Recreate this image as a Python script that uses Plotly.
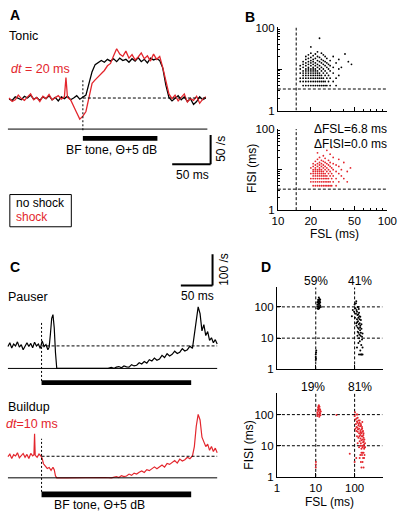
import plotly.graph_objects as go

W, H = 407, 519
RED = "#e3262d"
FONT = "Liberation Sans, Arial, Helvetica, sans-serif"

# ---------------- Panel A (tonic neuron PSTH, rate in spikes/s vs time in ms) -------------
tA_noshock = [-96, -92, -88, -84, -80, -76, -72, -68, -64, -60, -56, -52, -48, -44, -40,
              -36, -32, -28, -24, -20, -16, -12, -8, -4, 0, 4, 8, 12, 16, 20, 24, 28, 32,
              36, 40, 44, 48, 52, 56, 60, 64, 68, 72, 76, 80, 84, 88, 92, 96, 100, 104,
              108, 112, 116, 120, 124, 128, 132, 136, 140, 144, 148, 152, 156, 160]
A_noshock = [51, 49, 55, 52, 50, 56, 53, 58, 51, 54, 49, 55, 52, 57, 50,
             54, 48, 55, 52, 56, 50, 53, 57, 51, 54, 58, 78, 98, 110, 113, 117, 114, 119,
             116, 120, 115, 121, 117, 119, 114, 120, 116, 122, 115, 119, 113, 121, 118, 120, 117, 104,
             75, 54, 48, 53, 57, 50, 55, 47, 52, 42, 47, 55, 50, 53]
tA_shock = [-96, -92, -88, -84, -80, -76, -72, -68, -64, -60, -56, -52, -48, -44, -40,
            -36, -32, -28, -24, -22, -20, -16, -12, -8, -4, 0, 4, 8, 12, 16, 20, 24, 28, 32,
            36, 40, 44, 48, 52, 56, 60, 64, 68, 72, 76, 80, 84, 88, 92, 96, 100, 104,
            108, 112, 116, 120, 124, 128, 132, 136, 140, 144, 148, 152, 156, 160]
A_shock = [53, 47, 50, 58, 52, 49, 55, 60, 50, 54, 47, 56, 52, 59, 50,
           53, 57, 51, 55, 88, 54, 50, 40, 28, 17, 22, 30, 55, 78, 84, 89, 95, 100, 108,
           112, 125, 137, 128, 124, 133, 121, 127, 118, 123, 130, 120, 125, 116, 128, 119, 124, 105,
           80, 60, 52, 58, 48, 54, 60, 46, 52, 49, 56, 44, 51, 55]
A_spont = 53          # spontaneous rate (dashed line)
A_tone = [0, 97]      # tone on/off (ms)
A_span = [-97.5, 162]

# ---------------- Panel C (pauser / buildup) ----------------
tC_pauser = [-53, -50, -47, -44, -41, -38, -35, -32, -29, -26, -23, -20, -17, -14, -11, -8, -5, -2,
             1, 4, 7, 10, 12, 14, 16, 18, 20, 22, 24, 40, 60, 80, 95, 100, 105, 110, 114, 118, 122,
             126, 130, 134, 138, 142, 146, 150, 154, 158, 162, 166, 170, 174, 178, 182, 186, 190,
             194, 198, 202, 206, 210, 214, 218, 222, 226, 230, 234, 238, 241, 244, 247, 250, 253,
             256, 259, 262, 265, 268, 271, 274, 277]
C_pauser = [70, 82, 65, 78, 72, 85, 68, 76, 60, 74, 82, 70, 80, 66, 84, 72, 78, 64,
            88, 70, 76, 60, 68, 110, 160, 172, 130, 50, 0, 0, 0, 0, 0, 2, 0, 3, 0, 4, 6,
            2, 8, 5, 4, 12, 8, 10, 18, 14, 22, 17, 28, 24, 33, 26, 30, 42,
            35, 47, 40, 45, 55, 48, 52, 63, 56, 60, 71, 64, 105, 160, 197, 175, 120,
            140, 105, 118, 90, 98, 82, 92, 78]
tC_buildup = [-53, -50, -47, -44, -41, -38, -35, -32, -29, -26, -23, -20, -17, -14, -12, -11, -10,
              -7, -4, -1, 1, 3, 6, 9, 12, 15, 18, 20, 22, 24, 40, 60, 80, 100, 110, 114, 118, 122,
              126, 130, 134, 138, 142, 146, 150, 154, 158, 162, 166, 170, 174, 178, 182, 186, 190,
              194, 198, 202, 206, 210, 214, 218, 222, 226, 230, 234, 238, 241, 244, 247, 250, 253,
              256, 259, 262, 265, 268, 271, 274, 277]
C_buildup = [68, 76, 62, 74, 70, 80, 64, 72, 78, 66, 75, 62, 78, 70, 74, 141, 72,
             66, 76, 70, 62, 45, 36, 30, 33, 24, 34, 26, 6, 0, 0, 1, 0, 1, 0, 2, 4, 1,
             7, 4, 6, 12, 8, 15, 12, 18, 22, 17, 26, 23, 28, 35, 29, 36, 41,
             34, 46, 43, 50, 55, 47, 60, 54, 58, 66, 61, 70, 100, 165, 203, 185, 130,
             115, 100, 108, 88, 100, 84, 95, 80]
C_spont_pauser = 72
C_spont_buildup = 69
C_tone = [0, 236]
C_span = [-53, 277]

# ---------------- Panel B (FSL vs FISI, single unit) ----------------
B_fsl_cols_noshock = [16, 17, 18, 19, 20, 21, 22, 23, 24, 25, 26, 27, 28, 29, 30, 32, 34, 36, 38, 41, 44, 47]
B_fisi_cols_noshock = [
    [5, 6, 8, 10, 12],
    [4, 5, 6, 7, 8, 9, 11, 13, 15],
    [4, 5, 6, 7, 8, 9, 10, 12, 14, 17, 20],
    [4, 5, 6, 7, 8, 9, 10, 11, 13, 15, 18, 22],
    [4, 5, 6, 7, 8, 9, 10, 12, 14, 16, 19, 24, 34],
    [4, 5, 6, 7, 8, 9, 10, 11, 13, 15, 17, 21],
    [4, 5, 6, 7, 8, 9, 10, 12, 14, 18, 23],
    [4, 5, 6, 7, 8, 9, 11, 13, 16, 20, 26],
    [4, 5, 6, 7, 8, 10, 12, 15, 19, 55],
    [4, 5, 6, 7, 9, 11, 14, 17, 24],
    [4, 5, 6, 8, 10, 13, 16, 22],
    [4, 5, 7, 9, 12, 15, 20],
    [4, 6, 8, 11, 14, 18],
    [5, 7, 10, 13],
    [4, 6, 9, 12, 16],
    [5, 8, 11, 20],
    [4, 6, 14],
    [7, 10, 17],
    [11],
    [23],
    [15],
    [13],
]
B_fsl_cols_shock = [20, 21, 22, 23, 24, 25, 26, 27, 28, 29, 30, 31, 32, 34, 36, 38, 40, 43, 46]
B_fisi_cols_shock = [
    [5, 6, 8, 11],
    [4, 5, 6, 7, 8, 9, 10, 12, 14],
    [4, 5, 6, 7, 8, 9, 10, 11, 13, 16],
    [4, 5, 6, 7, 8, 9, 10, 12, 14, 18, 26],
    [4, 5, 6, 7, 8, 9, 10, 11, 13, 15, 20],
    [4, 5, 6, 7, 8, 9, 10, 12, 14, 17],
    [4, 5, 6, 7, 8, 9, 11, 13, 16, 22],
    [4, 5, 6, 7, 8, 10, 12, 15, 19],
    [4, 5, 6, 7, 9, 11, 14, 30],
    [4, 5, 6, 8, 10, 13, 17],
    [4, 5, 7, 9, 12, 15, 24],
    [4, 6, 8, 11, 35],
    [5, 7, 10, 14, 20],
    [4, 6, 9, 13],
    [5, 8, 12, 18],
    [7, 10],
    [6, 15],
    [5, 9],
    [11],
]
B_crit_fsl = 14.7
B_crit_fisi = 3.3
B_stats = ["\u0394FSL=6.8 ms", "\u0394FISI=0.0 ms"]

# ---------------- Panel D (population FSL vs FISI) ----------------
D_noshock = [
    (11, 120), (11.5, 150), (12, 100), (12.5, 180), (11, 90), (12, 130), (13, 110), (11.5, 170),
    (12, 200), (12.5, 95), (13, 140), (11, 105), (12, 160), (11.5, 85), (12.5, 125), (13.5, 100),
    (12, 115), (11, 140), (13, 170), (12.5, 150), (11.8, 135), (12.2, 88),
    (10, 3), (10, 2.5), (10.2, 3.5), (10, 2), (10.3, 4), (10.1, 2.2),
    (100, 120), (105, 90), (110, 150), (115, 70), (120, 100), (108, 60), (112, 80), (118, 55),
    (125, 45), (130, 65), (122, 35), (115, 40), (135, 30), (128, 28), (140, 25), (120, 22),
    (132, 50), (145, 38), (138, 18), (126, 15), (150, 20), (118, 12), (142, 12), (130, 10),
    (155, 9), (136, 8), (125, 7), (148, 6), (160, 5), (115, 5), (140, 4), (150, 3), (130, 3),
    (145, 3), (160, 3), (110, 30), (102, 45), (97, 70), (128, 85), (112, 25), (134, 40),
    (124, 58), (140, 48), (116, 32), (150, 28), (138, 22), (127, 20), (120, 16), (145, 15),
    (133, 13), (155, 11), (160, 14), (122, 100), (108, 130), (90, 80), (85, 50),
]
D_shock = [
    (11, 120), (11.5, 150), (12, 100), (12.5, 180), (11, 90), (12, 130), (13, 110), (11.5, 170),
    (12, 200), (12.5, 95), (13, 140), (11, 105), (12, 160), (13.5, 125), (12.5, 115), (11.8, 185),
    (12.8, 150), (13.2, 95), (11.2, 140), (12.3, 85),
    (10, 2.5), (10.1, 3), (10, 2), (34, 97), (75, 5.5),
    (100, 90), (105, 70), (110, 100), (115, 60), (120, 80), (108, 50), (112, 40), (118, 55),
    (125, 45), (130, 35), (135, 65), (140, 30), (145, 50), (150, 25), (155, 40), (160, 20),
    (165, 30), (170, 18), (130, 25), (120, 28), (140, 22), (150, 15), (125, 18), (135, 14),
    (145, 12), (155, 10), (165, 13), (175, 11), (170, 25), (180, 9), (160, 9), (150, 8),
    (140, 10), (130, 9), (120, 12), (115, 20), (110, 30), (105, 35), (128, 50), (138, 42),
    (148, 33), (158, 28), (168, 22), (178, 16), (185, 12), (142, 17), (152, 20), (162, 16),
    (172, 14), (132, 20), (122, 33), (118, 38), (144, 26), (156, 35), (166, 10), (176, 8),
    (186, 9), (150, 6), (160, 6), (170, 6), (140, 5), (155, 5), (165, 4), (175, 4), (145, 3),
    (160, 3), (150, 2), (170, 2), (135, 4), (180, 5), (112, 75), (102, 120), (126, 65),
    (134, 55), (146, 45), (158, 58), (118, 100), (100, 3), (110, 4),
]
D_ref = [10, 100]
D_pct_noshock = ["59%", "41%"]
D_pct_shock = ["19%", "81%"]


# ---------------- helpers (layout positions in pixels) ----------------
def X(px):
    return px / W


def Y(py):
    return 1 - py / H


fig = go.Figure()
shapes = []
annotations = []


def text(s, x, y, size=12, color="black", xanchor="left", angle=0):
    annotations.append(dict(text=s, x=X(x), y=Y(y), xref="paper", yref="paper",
                            showarrow=False, xanchor=xanchor, yanchor="middle",
                            textangle=angle, borderpad=0,
                            font=dict(size=size, color=color, family=FONT)))


def seg(xr, yr, x0, x1, y0, y1, width=1, dash=None, color="black"):
    shapes.append(dict(type="line", xref=xr, yref=yr, x0=x0, x1=x1, y0=y0, y1=y1,
                       line=dict(color=color, width=width, dash=dash)))


def bar(xr, yr, x0, x1, y0, y1):
    shapes.append(dict(type="rect", xref=xr, yref=yr, x0=x0, x1=x1, y0=y0, y1=y1,
                       fillcolor="black", line=dict(width=0)))


hidden = dict(visible=False, fixedrange=True)

# ---- axes for traces (A and C) ----
layout_axes = {}
layout_axes["xaxis"] = dict(hidden, domain=[0, X(244)], range=[(0 - 80) / 0.8, (244 - 80) / 0.8])
layout_axes["yaxis"] = dict(hidden, domain=[Y(180), 1], range=[(126 - 180) / 0.6, 126 / 0.6], anchor="x")
layout_axes["xaxis4"] = dict(hidden, domain=[0, X(244)], range=[(0 - 37) / 0.66, (244 - 37) / 0.66], anchor="y4")
layout_axes["yaxis4"] = dict(hidden, domain=[Y(395), Y(245)], range=[(371 - 395) / 0.32, (371 - 245) / 0.32], anchor="x4")
layout_axes["xaxis5"] = dict(hidden, domain=[0, X(244)], range=[(0 - 37) / 0.66, (244 - 37) / 0.66], anchor="y5")
layout_axes["yaxis5"] = dict(hidden, domain=[0, Y(400)], range=[(483 - 519) / 0.32, (483 - 400) / 0.32], anchor="x5")


def log_axis(domain, rng, tickvals, ticktext, minor_vals, labels, anchor):
    return dict(type="log", domain=domain, range=rng, tickvals=tickvals, ticktext=ticktext,
                ticks="inside", ticklen=4, tickwidth=1, tickcolor="black",
                showline=True, linecolor="black", linewidth=1, mirror=False,
                showgrid=False, zeroline=False, showticklabels=labels,
                tickfont=dict(size=11.5, color="black", family=FONT), anchor=anchor,
                minor=dict(tickvals=minor_vals, ticks="inside", ticklen=2, tickwidth=1,
                           tickcolor="black", showgrid=False),
                fixedrange=True)


minorB_x = [30, 40, 60, 70, 80, 90]
minorB_y = [2, 3, 4, 5, 6, 7, 8, 9, 20, 30, 40, 50, 60, 70, 80, 90]
layout_axes["xaxis2"] = log_axis([X(283), X(397)], [1, 2], [10, 20, 50, 100], ["10", "20", "50", "100"], minorB_x, False, "y2")
layout_axes["yaxis2"] = log_axis([Y(107), Y(22)], [0, 2], [1, 10, 100], ["1", "", "100"], minorB_y, True, "x2")
layout_axes["xaxis3"] = log_axis([X(283), X(397)], [1, 2], [10, 20, 50, 100], ["10", "20", "50", "100"], minorB_x, True, "y3")
layout_axes["yaxis3"] = log_axis([Y(209), Y(126)], [0, 2], [1, 10, 100], ["1", "", "100"], minorB_y, True, "x3")

layout_axes["xaxis6"] = log_axis([X(282), X(392)], [0, 2.72], [1, 10, 100], ["1", "10", "100"], [], False, "y6")
layout_axes["yaxis6"] = log_axis([Y(372), Y(288)], [0, 2.625], [1, 10, 100], ["1", "10", "100"], [], True, "x6")
layout_axes["xaxis7"] = log_axis([X(282), X(392)], [0, 2.72], [1, 10, 100], ["1", "10", "100"], [], True, "y7")
layout_axes["yaxis7"] = log_axis([Y(482), Y(396)], [0, 2.70], [1, 10, 100], ["1", "10", "100"], [], True, "x7")

# ---- Panel A traces ----
fig.add_trace(go.Scatter(x=tA_noshock, y=A_noshock, mode="lines", line=dict(color="black", width=1.3),
                         xaxis="x", yaxis="y", hoverinfo="skip"))
fig.add_trace(go.Scatter(x=tA_shock, y=A_shock, mode="lines", line=dict(color=RED, width=1.3),
                         xaxis="x", yaxis="y", hoverinfo="skip"))
seg("x", "y", A_span[0], A_span[1], 0, 0, width=1)
seg("x", "y", A_tone[0], A_span[1], A_spont, A_spont, width=1, dash="3px,2px")
seg("x", "y", A_tone[0], A_tone[0], -2, 85, width=1, dash="2px,2px")
bar("x", "y", A_tone[0], A_tone[1], -20, -11.7)
# scale bars: 50 ms, 50 /s
seg("x", "y", 116.25, 116.25 + 50, -60, -60, width=2)
seg("x", "y", 166.25, 166.25, -60, -60 + 50, width=2)

# ---- Panel C traces ----
fig.add_trace(go.Scatter(x=tC_pauser, y=C_pauser, mode="lines", line=dict(color="black", width=1.2),
                         xaxis="x4", yaxis="y4", hoverinfo="skip"))
fig.add_trace(go.Scatter(x=tC_buildup, y=C_buildup, mode="lines", line=dict(color=RED, width=1.2),
                         xaxis="x5", yaxis="y5", hoverinfo="skip"))
seg("x4", "y4", C_span[0], C_span[1], 0, 0, width=1)
seg("x4", "y4", C_tone[0], C_span[1], C_spont_pauser, C_spont_pauser, width=1, dash="3px,2px")
seg("x4", "y4", C_tone[0], C_tone[0], -40, 150, width=1, dash="2px,2px")
bar("x4", "y4", C_tone[0], C_tone[1], -53, -37.5)
seg("x5", "y5", C_span[0], C_span[1], 0, 0, width=1)
seg("x5", "y5", C_tone[0], C_span[1], C_spont_buildup, C_spont_buildup, width=1, dash="3px,2px")
seg("x5", "y5", C_tone[0], C_tone[0], -45, 125, width=1, dash="2px,2px")
bar("x5", "y5", C_tone[0], C_tone[1], -62.5, -44)
# scale bars: 50 ms, 100 /s
seg("x4", "y4", 219.7, 219.7 + 50, 265.6, 265.6, width=2)
seg("x4", "y4", 269.7, 269.7, 265.6, 265.6 + 100, width=2)

# ---- Panel B scatter ----
fslB_ns = [f for f, col in zip(B_fsl_cols_noshock, B_fisi_cols_noshock) for _ in col]
fisiB_ns = [v for col in B_fisi_cols_noshock for v in col]
fslB_s = [f for f, col in zip(B_fsl_cols_shock, B_fisi_cols_shock) for _ in col]
fisiB_s = [v for col in B_fisi_cols_shock for v in col]

for xa, ya in (("x2", "y2"), ("x3", "y3")):
    fig.add_trace(go.Scatter(x=[B_crit_fsl, B_crit_fsl], y=[1, 100], mode="lines",
                             line=dict(color="black", width=1, dash="3px,2px"), xaxis=xa, yaxis=ya, hoverinfo="skip"))
    fig.add_trace(go.Scatter(x=[10, 100], y=[B_crit_fisi, B_crit_fisi], mode="lines",
                             line=dict(color="black", width=1, dash="3px,2px"), xaxis=xa, yaxis=ya, hoverinfo="skip"))
fig.add_trace(go.Scatter(x=fslB_ns, y=fisiB_ns, mode="markers", marker=dict(size=1.8, color="black"),
                         xaxis="x2", yaxis="y2", hoverinfo="skip"))
fig.add_trace(go.Scatter(x=fslB_s, y=fisiB_s, mode="markers", marker=dict(size=1.8, color=RED),
                         xaxis="x3", yaxis="y3", hoverinfo="skip"))

# ---- Panel D scatter ----
for xa, ya, top in (("x6", "y6", 10 ** 2.625), ("x7", "y7", 10 ** 2.70)):
    for r in D_ref:
        fig.add_trace(go.Scatter(x=[r, r], y=[1, top], mode="lines",
                                 line=dict(color="black", width=1, dash="3px,2px"), xaxis=xa, yaxis=ya, hoverinfo="skip"))
        fig.add_trace(go.Scatter(x=[1, 10 ** 2.72], y=[r, r], mode="lines",
                                 line=dict(color="black", width=1, dash="3px,2px"), xaxis=xa, yaxis=ya, hoverinfo="skip"))
fig.add_trace(go.Scatter(x=[p[0] for p in D_noshock], y=[p[1] for p in D_noshock], mode="markers",
                         marker=dict(size=2, color="black"), xaxis="x6", yaxis="y6", hoverinfo="skip"))
fig.add_trace(go.Scatter(x=[p[0] for p in D_shock], y=[p[1] for p in D_shock], mode="markers",
                         marker=dict(size=2, color=RED), xaxis="x7", yaxis="y7", hoverinfo="skip"))

# ---- texts ----
text("<b>A</b>", 3, 9, size=14)
text("Tonic", 2, 31, size=12.5)
text("<i>dt</i> = 20 ms", 4, 65, size=12.5, color=RED)
text("BF tone, \u0398+5 dB", 110, 147, size=12.2, xanchor="center")
text("50 ms", 194, 173, size=12, xanchor="center")
text("50 /s", 223, 146, size=12, xanchor="center", angle=-90)
shapes.append(dict(type="rect", xref="paper", yref="paper", x0=X(4), x1=X(68), y0=Y(226), y1=Y(193),
                   line=dict(color="black", width=1), fillcolor="rgba(0,0,0,0)"))
text("no shock", 9, 202, size=12)
text("shock", 9, 216, size=12, color=RED)

text("<b>B</b>", 248, 11, size=14)
text(B_stats[0], 398, 126, size=12, xanchor="right")
text(B_stats[1], 398, 141, size=12, xanchor="right")
text("FISI (ms)", 256, 166, size=12, xanchor="center", angle=-90)
text("FSL (ms)", 342, 233, size=12, xanchor="center")

text("<b>C</b>", 3, 267, size=14)
text("Pauser", 1, 298, size=12.5)
text("50 ms", 199, 297, size=12, xanchor="center")
text("100 /s", 227, 270, size=12, xanchor="center", angle=-90)
text("Buildup", 1, 410, size=12.5)
text("<i>dt</i>=10 ms", -1, 428, size=12.5, color=RED)
text("BF tone, \u0398+5 dB", 97, 511, size=12.2, xanchor="center")

text("<b>D</b>", 264, 267, size=14)
text(D_pct_noshock[0], 323, 282, size=12, xanchor="center")
text(D_pct_noshock[1], 368, 282, size=12, xanchor="center")
text(D_pct_shock[0], 320, 390, size=12, xanchor="center")
text(D_pct_shock[1], 368, 390, size=12, xanchor="center")
text("FISI (ms)", 253, 450, size=12, xanchor="center", angle=-90)
text("FSL (ms)", 337, 508, size=12, xanchor="center")

fig.update_layout(
    width=W, height=H, margin=dict(l=0, r=0, t=0, b=0, pad=0),
    paper_bgcolor="white", plot_bgcolor="rgba(0,0,0,0)",
    showlegend=False, font=dict(family=FONT, size=12, color="black"),
    shapes=shapes, annotations=annotations, **layout_axes,
)

fig.write_html("out.html", config={"displayModeBar": False},
               post_script="document.body.style.margin='0px';document.body.style.overflow='hidden';")
